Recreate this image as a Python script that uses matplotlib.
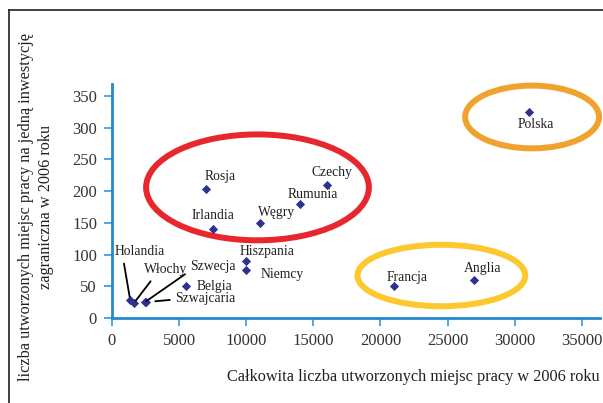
import numpy as np
import matplotlib.pyplot as plt
from matplotlib.patches import Ellipse
from matplotlib.lines import Line2D

plt.rcParams['font.family'] = ['Liberation Serif', 'DejaVu Serif']

# dane: liczba miejsc pracy ogółem / na jedną inwestycję
kraje = ["Polska", "Czechy", "Rumunia", "Rosja", "Irlandia", "Węgry", "Hiszpania",
         "Niemcy", "Belgia", "Francja", "Anglia", "Holandia", "Włochy", "Szwecja",
         "Szwajcaria"]
miejsca = [31100, 16000, 14000, 7000, 7500, 11000, 10000, 10000, 5500, 21000, 27000,
           1350, 1650, 2450, 2500]
na_inwestycje = [325, 210, 180, 203, 140, 150, 90, 75, 50, 50, 60, 29, 24, 25, 25]

# przesunięcia podpisów (piksele) i ewentualne linie odniesienia
offsets = {
    "Polska": (6, -13), "Czechy": (5, 12), "Rumunia": (13, 9), "Rosja": (14, 13),
    "Irlandia": (0, 14), "Węgry": (17, 10), "Hiszpania": (21, 9), "Niemcy": (36, -4),
    "Belgia": (29, 0), "Francja": (13, 9), "Anglia": (8, 11),
    "Holandia": (10, 48), "Włochy": (32, 33), "Szwecja": (68, 36), "Szwajcaria": (60, 4),
}
leaders = {
    "Holandia": ((0.16, 0.0), 2),
    "Włochy": ((0.23, 0.0), 2),
    "Szwecja": ((0.0, 0.15), 1),
    "Szwajcaria": ((0.0, 0.4), 7),
}

# obrysy grup (środek x, środek y, szerokość, wysokość, kolor)
grupy = [
    (10840, 206, 16600, 167, '#E8262D'),
    (31300, 317, 9980, 99, '#F0A22E'),
    (24540, 67, 12500, 97, '#FDC72E'),
]

blue = '#2189CE'
tick_blue = '#55A5DD'
txt = '#231F20'

fig = plt.figure(figsize=(6.03, 4.03), dpi=100)
W, H = 603, 403
ax = fig.add_axes([112 / W, 1 - 318 / H, (600 - 112) / W, (318 - 84) / H])

ax.set_xlim(0, 36360)
ax.set_ylim(0, 369)

for cx, cy, w, h, c in grupy:
    ax.add_patch(Ellipse((cx, cy), w, h, fill=False, edgecolor=c, lw=4.3,
                         clip_on=False, zorder=1))

ax.scatter(miejsca, na_inwestycje, marker='D', s=22, color='#2E3192', zorder=3,
           clip_on=False, linewidths=0)

for k, x, y in zip(kraje, miejsca, na_inwestycje):
    dx, dy = offsets[k]
    if k in leaders:
        rel, shb = leaders[k]
        ax.annotate(k, (x, y), xytext=(dx, dy), textcoords='offset pixels',
                    ha='center', va='center', fontsize=9.8, color=txt,
                    arrowprops=dict(arrowstyle='-', color='black', lw=1.3,
                                    relpos=rel, shrinkA=2, shrinkB=shb))
    else:
        ax.annotate(k, (x, y), xytext=(dx, dy), textcoords='offset pixels',
                    ha='center', va='center', fontsize=9.8, color=txt)

for s in ['top', 'right']:
    ax.spines[s].set_visible(False)
for s in ['left', 'bottom']:
    ax.spines[s].set_color(blue)
    ax.spines[s].set_linewidth(2)

ax.set_xticks(np.arange(0, 35001, 5000))
ax.set_yticks(np.arange(0, 351, 50))
ax.tick_params(axis='both', direction='out', length=5.8, width=1.4, color=tick_blue,
               labelsize=12, labelcolor='#333333', pad=5)

fig.text(413 / W, 1 - 377 / H, "Całkowita liczba utworzonych miejsc pracy w 2006 roku",
         ha='center', va='center', fontsize=11.7, color=txt)
fig.text(36 / W, 1 - 207 / H,
         "liczba utworzonych miejsc pracy na jedną inwestycję\nzagraniczna w 2006 roku",
         ha='center', va='center', rotation=90, multialignment='center',
         fontsize=11.7, color=txt, linespacing=1.4)

# ramka
fig.add_artist(Line2D([9 / W, 1], [1 - 10 / H, 1 - 10 / H], color='#231F20', lw=1.2))
fig.add_artist(Line2D([9 / W, 9 / W], [0, 1 - 10 / H], color='#231F20', lw=1.2))

fig.savefig('out.png', dpi=100)
